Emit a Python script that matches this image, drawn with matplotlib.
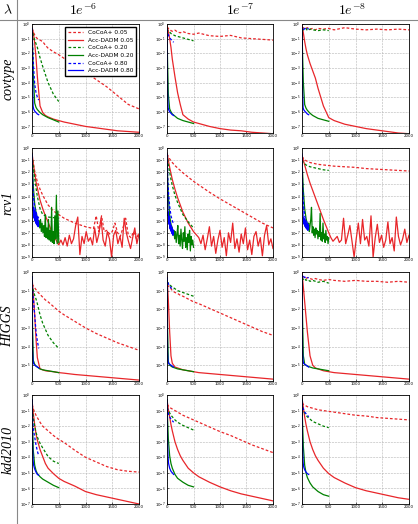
# convergence of CoCoA+ vs Acc-DADM on four datasets, three lambdas
import numpy as np
import matplotlib.pyplot as plt
from matplotlib.ticker import NullLocator, LogFormatterSciNotation

plt.rcParams['mathtext.fontset'] = 'cm'

lambdas = ['$1e^{-6}$', '$1e^{-7}$', '$1e^{-8}$']
datasets = ['covtype', 'rcv1', 'HIGGS', 'kdd2010']
labels = ['CoCoA+ 0.05', 'Acc-DADM 0.05', 'CoCoA+ 0.20',
          'Acc-DADM 0.20', 'CoCoA+ 0.80', 'Acc-DADM 0.80']
keys = ['c05', 'a05', 'c20', 'a20', 'c80', 'a80']

# iteration grids (x) for the smooth curves
X05 = [0, 25, 50, 75, 100, 150, 200, 250, 300, 400, 500, 600, 800, 1000, 1200, 1400, 1600, 1800, 2000]
X20 = [0, 10, 25, 50, 75, 100, 150, 200, 300, 400, 500]
X80 = [0, 5, 10, 20, 30, 50, 75, 100, 125]

# values are log10 of the plotted quantity
cov_6 = {
    'c05': [-0.3, -0.55, -0.75, -0.9, -1.0, -1.1, -1.2, -1.45, -1.65, -1.9, -2.1, -2.35, -2.8, -3.3, -3.8, -4.3, -4.9, -5.5, -5.8],
    'a05': [-0.2, -0.6, -1.3, -2.3, -3.6, -5.6, -6.05, -6.25, -6.35, -6.5, -6.6, -6.7, -6.85, -7.0, -7.1, -7.2, -7.3, -7.35, -7.4],
    'c20': [-0.3, -0.5, -0.8, -1.1, -1.35, -1.6, -2.3, -2.9, -4.0, -4.8, -5.3],
    'a20': [-0.3, -1.5, -3.5, -5.4, -5.7, -5.85, -6.05, -6.2, -6.4, -6.55, -6.7],
    'c80': [-0.3, -0.8, -1.3, -2.2, -3.0, -4.1, -4.7, -5.0, -5.2],
    'a80': [-0.3, -2.0, -4.0, -5.6, -5.8, -5.95, -6.05, -6.15, -6.2],
}
cov_7 = {
    'c05': [-0.2, -0.3, -0.35, -0.45, -0.5, -0.42, -0.55, -0.6, -0.52, -0.65, -0.7, -0.62, -0.8, -0.85, -0.78, -0.95, -1.0, -1.05, -1.1],
    'a05': [-0.1, -0.5, -1.0, -1.6, -2.4, -3.6, -4.7, -5.5, -6.2, -6.5, -6.7, -6.8, -7.0, -7.15, -7.25, -7.3, -7.4, -7.45, -7.5],
    'c20': [-0.3, -0.4, -0.5, -0.55, -0.65, -0.7, -0.8, -0.85, -0.95, -1.05, -1.15],
    'a20': [-0.3, -2.5, -4.8, -5.8, -6.0, -6.15, -6.3, -6.45, -6.6, -6.7, -6.8],
    'c80': [-0.35, -0.45, -0.55, -0.7, -0.8, -0.95, -1.05, -1.15, -1.25],
    'a80': [-0.35, -2.5, -4.5, -5.7, -5.85, -6.0, -6.1, -6.2, -6.25],
}
cov_8 = {
    'c05': [-0.3, -0.25, -0.35, -0.3, -0.25, -0.35, -0.3, -0.4, -0.3, -0.35, -0.3, -0.4, -0.25, -0.35, -0.4, -0.35, -0.4, -0.35, -0.4],
    'a05': [0.0, -0.6, -1.2, -1.7, -2.1, -2.7, -3.2, -3.7, -4.4, -5.6, -6.4, -6.6, -6.85, -7.0, -7.15, -7.25, -7.35, -7.45, -7.5],
    'c20': [-0.3, -0.3, -0.4, -0.35, -0.3, -0.45, -0.35, -0.4, -0.45, -0.4, -0.45],
    'a20': [-0.3, -2.0, -4.0, -5.5, -5.75, -5.9, -6.1, -6.25, -6.45, -6.55, -6.65],
    'c80': [-0.3, -0.25, -0.35, -0.3, -0.4, -0.3, -0.35, -0.3, -0.35],
    'a80': [-0.3, -2.5, -4.5, -5.7, -5.85, -5.95, -6.05, -6.15, -6.2],
}


def noisy(xs, ys, x1, x2, yn):
    # smooth head followed by an evenly sampled noisy tail
    return (list(xs) + list(np.linspace(x1, x2, len(yn))), list(ys) + list(yn))


XA = [0, 25, 50, 75, 100, 125, 150, 200, 250, 300, 350, 400, 450, 500]
XG = [0, 10, 25, 50, 75, 100]
rcv_6 = {
    'c05': ([0, 25, 50, 100, 150, 200, 300, 400, 500, 600, 700, 800, 900, 1000, 1100, 1150, 1200, 1250, 1300, 1350, 1400,
             1450, 1500, 1550, 1600, 1650, 1700, 1750, 1800, 1850, 1900, 1950, 2000],
            [-0.6, -1.3, -1.9, -2.8, -3.4, -3.9, -4.7, -5.2, -5.5, -5.8, -6.0, -6.2, -6.35, -6.5, -6.6, -6.65, -5.6, -6.9, -5.6,
             -6.9, -6.8, -7.1, -6.9, -6.2, -7.0, -7.3, -6.6, -5.8, -7.2, -7.4, -6.9, -7.5, -7.0]),
    'a05': noisy(XA, [-0.4, -1.3, -2.1, -2.8, -3.3, -3.8, -4.3, -5.0, -5.6, -6.1, -6.7, -7.2, -7.6, -8.0], 540, 2000,
                 [-7.6, -8.0, -7.4, -8.1, -7.2, -7.9, -7.5, -6.4, -5.7, -8.8, -7.3, -7.9, -6.9, -7.7, -7.4, -8.0, -6.6, -7.8, -7.1,
                  -5.8, -7.6, -8.1, -6.9, -7.5, -9.0, -7.2, -6.8, -7.9, -7.3, -8.2, -5.8, -7.0, -7.7, -8.3, -7.4, -6.6, -7.9, -7.1]),
    'c20': [-0.6, -1.0, -1.6, -2.5, -3.3, -4.0, -5.0, -5.5, -5.7, -5.75, -5.8],
    'a20': noisy(XG, [-0.5, -1.8, -3.2, -4.6, -5.3, -5.8], 115, 500,
                 [-6.3, -6.0, -6.6, -5.9, -6.9, -6.2, -7.0, -6.4, -7.3, -5.5, -7.4, -6.6, -7.5, -5.9, -7.6, -6.8, -7.7, -4.9,
                  -7.8, -6.9, -7.9, -5.6, -7.5, -3.9, -7.9, -5.2, -7.8]),
    'c80': [-0.6, -1.5, -2.3, -3.4, -4.1, -4.9, -5.3, -5.6, -5.8],
    'a80': noisy([0], [-0.5], 5, 125,
                 [-2.3, -3.8, -4.6, -5.2, -4.9, -5.6, -5.1, -5.8, -5.3, -5.4, -6.0, -5.2, -5.7, -6.2, -5.5, -5.9, -6.3, -5.6,
                  -6.1, -6.4, -5.8, -6.2, -6.5, -6.1, -6.4]),
}
rcv_7 = {
    'c05': [-0.5, -0.7, -0.9, -1.05, -1.2, -1.45, -1.65, -1.85, -2.05, -2.4, -2.75, -3.05, -3.65, -4.2, -4.7, -5.2, -5.7, -6.2, -6.6],
    'a05': noisy([0, 25, 50, 100, 150, 200, 300, 400, 500, 600], [-0.4, -1.0, -1.6, -2.6, -3.4, -4.1, -5.3, -6.2, -6.9, -7.4],
                 640, 2000,
                 [-7.9, -7.2, -8.4, -7.5, -6.5, -8.1, -7.3, -8.7, -7.6, -6.8, -8.2, -7.4, -8.9, -7.0, -7.8, -6.2, -8.3, -7.5,
                  -8.6, -7.1, -7.9, -6.6, -8.4, -7.6, -8.8, -7.3, -6.9, -8.1, -7.4, -8.9, -7.2, -6.4, -8.0, -7.5, -8.3]),
    'c20': [-0.5, -0.9, -1.4, -2.0, -2.6, -3.1, -3.9, -4.5, -5.5, -6.1, -6.6],
    'a20': noisy(XG, [-0.5, -2.2, -4.0, -5.6, -6.3, -6.6], 115, 500,
                 [-7.2, -6.8, -7.5, -6.9, -7.8, -7.1, -6.4, -7.9, -7.2, -8.1, -6.7, -7.6, -8.3, -7.0, -7.7, -6.5, -8.2, -7.4,
                  -8.4, -7.1, -7.8, -6.8, -8.5, -7.3, -8.0, -7.6, -8.2]),
    'c80': [-0.5, -1.2, -1.9, -3.0, -3.8, -4.8, -5.6, -6.0, -6.3],
    'a80': noisy([0], [-0.5], 5, 125,
                 [-2.5, -4.0, -5.0, -5.6, -5.3, -6.0, -5.6, -6.3, -5.9, -6.5, -6.1, -6.7, -6.2, -6.8, -6.4, -6.9, -6.5, -7.0,
                  -6.6, -7.1, -6.7, -7.2, -6.8, -7.1, -7.0]),
}
rcv_8 = {
    'c05': [-0.7, -0.85, -0.95, -1.05, -1.1, -1.2, -1.25, -1.3, -1.35, -1.4, -1.45, -1.5, -1.55, -1.6, -1.7, -1.75, -1.8, -1.85, -1.9],
    'a05': noisy([0, 25, 50, 100, 150, 200, 300, 400, 500], [-0.6, -1.0, -1.4, -2.2, -2.9, -3.5, -4.7, -5.9, -7.0], 540, 2000,
                 [-7.4, -7.7, -7.5, -7.3, -7.8, -7.6, -5.8, -7.9, -7.2, -6.4, -7.7, -9.0, -7.5, -6.2, -7.9, -5.9, -7.6, -7.3,
                  -8.1, -5.6, -9.0, -7.4, -6.3, -7.8, -7.2, -8.2, -7.6, -6.1, -7.9, -7.4, -8.5, -5.7, -7.3, -8.0, -7.5, -6.7,
                  -7.8, -7.2]),
    'c20': [-1.0, -1.1, -1.2, -1.3, -1.4, -1.45, -1.55, -1.6, -1.7, -1.8, -1.85],
    'a20': noisy(XG, [-0.8, -2.0, -3.5, -5.0, -5.8, -6.3], 110, 500,
                 [-6.6, -6.2, -6.9, -6.4, -5.9, -4.9, -7.0, -6.5, -7.2, -6.7, -7.4, -6.6, -7.1, -6.8, -7.5, -6.9, -7.3, -5.4,
                  -7.6, -7.0, -7.7, -6.2, -7.5, -7.1, -7.8, -6.8, -7.6, -7.3, -7.9, -7.4]),
    'c80': [-0.9, -1.8, -2.8, -4.0, -4.8, -5.6, -6.0, -6.2, -6.4],
    'a80': noisy([0], [-0.5], 5, 125,
                 [-2.5, -4.0, -5.0, -5.6, -5.9, -6.2, -5.8, -6.3, -6.0, -6.4, -5.9, -6.5, -6.1, -6.6, -6.2, -6.5, -6.3, -6.7,
                  -6.2, -6.6, -6.4, -6.8, -6.3, -6.7, -6.5]),
}
hig_6 = {
    'c05': [-0.65, -0.75, -0.85, -0.95, -1.05, -1.2, -1.35, -1.5, -1.6, -1.85, -2.1, -2.3, -2.65, -3.0, -3.3, -3.55, -3.8, -4.0, -4.2],
    'a05': [-0.25, -1.2, -2.3, -3.6, -4.6, -5.2, -5.25, -5.3, -5.32, -5.35, -5.4, -5.43, -5.5, -5.55, -5.6, -5.65, -5.7, -5.75, -5.8],
    'c20': [-0.65, -0.8, -1.0, -1.25, -1.45, -1.7, -2.3, -2.75, -3.4, -3.8, -4.1],
    'a20': [-0.25, -3.0, -4.75, -4.95, -5.05, -5.1, -5.2, -5.25, -5.3, -5.35, -5.4],
    'c80': [-0.25, -0.6, -0.9, -1.3, -1.6, -2.3, -3.2, -3.7, -4.1],
    'a80': [-0.25, -2.5, -4.2, -4.8, -4.9, -5.0, -5.05, -5.1, -5.15],
}
hig_7 = {
    'c05': [-0.7, -0.75, -0.85, -0.9, -1.0, -1.1, -1.15, -1.25, -1.3, -1.45, -1.6, -1.7, -1.95, -2.2, -2.45, -2.7, -2.95, -3.2, -3.4],
    'a05': [-0.2, -1.5, -3.2, -4.5, -4.9, -5.1, -5.15, -5.2, -5.25, -5.3, -5.35, -5.4, -5.45, -5.5, -5.55, -5.6, -5.65, -5.7, -5.75],
    'c20': [-0.5, -0.55, -0.6, -0.7, -0.75, -0.8, -0.9, -1.0, -1.1, -1.2, -1.3],
    'a20': [-0.3, -3.0, -4.8, -5.0, -5.05, -5.1, -5.15, -5.2, -5.25, -5.3, -5.35],
    'c80': [-0.3, -0.4, -0.5, -0.6, -0.65, -0.75, -0.85, -0.9, -0.95],
    'a80': [-0.3, -2.5, -4.3, -4.8, -4.9, -4.95, -5.0, -5.05, -5.1],
}
hig_8 = {
    'c05': [-0.3, -0.25, -0.3, -0.35, -0.3, -0.35, -0.4, -0.35, -0.4, -0.45, -0.4, -0.45, -0.5, -0.45, -0.5, -0.5, -0.55, -0.5, -0.55],
    'a05': [0.0, -0.8, -1.6, -2.4, -3.2, -4.5, -5.0, -5.15, -5.2, -5.3, -5.35, -5.4, -5.45, -5.5, -5.55, -5.6, -5.65, -5.7, -5.75],
    'c20': [-0.3, -0.35, -0.4, -0.35, -0.45, -0.4, -0.5, -0.45, -0.55, -0.5, -0.6],
    'a20': [-0.3, -2.5, -4.5, -4.95, -5.0, -5.05, -5.1, -5.15, -5.2, -5.25, -5.3],
    'c80': [-0.2, -0.25, -0.2, -0.3, -0.25, -0.3, -0.25, -0.3, -0.3],
    'a80': [-0.2, -2.5, -4.3, -4.8, -4.9, -4.95, -5.0, -5.05, -5.1],
}
kdd_6 = {
    'c05': [-0.6, -0.9, -1.1, -1.3, -1.45, -1.75, -2.0, -2.15, -2.3, -2.6, -2.85, -3.05, -3.55, -4.0, -4.3, -4.6, -4.8, -4.9, -4.95],
    'a05': [-0.3, -1.2, -1.9, -2.5, -2.9, -3.5, -3.95, -4.4, -4.7, -5.05, -5.35, -5.55, -5.85, -6.2, -6.4, -6.55, -6.7, -6.85, -7.0],
    'c20': [-0.6, -1.0, -1.5, -2.0, -2.4, -2.7, -3.1, -3.4, -3.95, -4.25, -4.4],
    'a20': [-0.3, -2.0, -3.6, -4.5, -4.85, -5.05, -5.25, -5.4, -5.6, -5.8, -5.95],
    'c80': [-0.3, -0.9, -1.4, -2.0, -2.3, -2.7, -3.2, -3.6, -3.9],
    'a80': [-0.3, -2.0, -3.2, -4.2, -4.5, -4.75, -4.95, -5.1, -5.15],
}
kdd_7 = {
    'c05': [-0.6, -0.7, -0.8, -0.85, -0.9, -1.0, -1.1, -1.2, -1.3, -1.45, -1.6, -1.75, -2.05, -2.35, -2.6, -2.9, -3.2, -3.45, -3.7],
    'a05': [-0.3, -0.9, -1.4, -1.9, -2.3, -3.0, -3.5, -3.9, -4.2, -4.7, -5.0, -5.25, -5.6, -5.9, -6.15, -6.35, -6.5, -6.65, -6.8],
    'c20': [-0.8, -0.9, -1.0, -1.15, -1.3, -1.4, -1.6, -1.75, -1.95, -2.1, -2.25],
    'a20': [-0.3, -1.5, -2.8, -3.9, -4.4, -4.7, -5.1, -5.35, -5.6, -5.8, -5.9],
    'c80': [-0.5, -0.7, -0.9, -1.1, -1.25, -1.4, -1.55, -1.65, -1.75],
    'a80': [-0.3, -1.8, -3.0, -4.0, -4.4, -4.7, -4.9, -5.0, -5.1],
}
kdd_8 = {
    'c05': [-0.5, -0.6, -0.65, -0.7, -0.75, -0.8, -0.85, -0.9, -0.95, -1.0, -1.05, -1.1, -1.2, -1.3, -1.35, -1.45, -1.5, -1.55, -1.6],
    'a05': [-0.2, -0.8, -1.4, -1.9, -2.3, -3.0, -3.5, -3.9, -4.2, -4.7, -5.05, -5.3, -5.65, -5.95, -6.15, -6.3, -6.45, -6.6, -6.7],
    'c20': [-0.8, -0.9, -1.0, -1.15, -1.3, -1.4, -1.55, -1.7, -1.85, -2.0, -2.1],
    'a20': [-0.3, -1.8, -3.3, -4.5, -5.0, -5.3, -5.65, -5.9, -6.2, -6.4, -6.5],
    'c80': [-0.5, -0.6, -0.7, -0.85, -0.95, -1.1, -1.2, -1.3, -1.4],
    'a80': [-0.3, -2.0, -3.3, -4.3, -4.6, -4.8, -4.95, -5.05, -5.1],
}

panels = [[cov_6, cov_7, cov_8], [rcv_6, rcv_7, rcv_8],
          [hig_6, hig_7, hig_8], [kdd_6, kdd_7, kdd_8]]
ylow = [-7.45, -9.0, -5.85, -7.0]  # log10 of lower y limit per row

grids = {'c05': X05, 'a05': X05, 'c20': X20, 'a20': X20, 'c80': X80, 'a80': X80}
colors = {'c05': '#e8262a', 'a05': '#e8262a', 'c20': '#008000', 'a20': '#008000',
          'c80': '#0000ff', 'a80': '#0000ff'}

W, H = 418, 524
fig = plt.figure(figsize=(W / 100, H / 100), dpi=100)

col_x = [(32, 139), (167, 273), (302, 409)]
row_y = [(24, 133), (148, 257), (272, 381), (395, 504)]

for r in range(4):
    for c in range(3):
        x0, x1 = col_x[c]
        y0, y1 = row_y[r]
        ax = fig.add_axes([x0 / W, 1 - y1 / H, (x1 - x0) / W, (y1 - y0) / H])
        data = panels[r][c]
        for k, lab in zip(keys, labels):
            s = data[k]
            if isinstance(s, tuple):
                xs, ys = s
            else:
                xs, ys = grids[k], s
            ls = '-' if k.startswith('a') else '--'
            line, = ax.plot(xs, 10.0 ** np.asarray(ys), color=colors[k], ls=ls, lw=0.9, label=lab)
            if ls == '--':
                line.set_dashes((2.2, 1.6))
        ax.set_yscale('log')
        ax.set_xlim(0, 2000)
        ax.set_ylim(10 ** ylow[r], 1.0)
        ax.set_xticks([0, 500, 1000, 1500, 2000])
        # only decades inside the view, so no hidden labels sit outside the box
        ax.set_yticks([10.0 ** -e for e in range(0, int(np.floor(-ylow[r] + 1e-9)) + 1)])
        ax.yaxis.set_major_formatter(LogFormatterSciNotation())
        ax.yaxis.set_minor_locator(NullLocator())
        ax.tick_params(labelsize=2.8, length=1.5, width=0.4, direction='in', pad=0.8)
        ax.grid(True, color='#b5b5b5', ls='--', lw=0.4)
        for sp in ax.spines.values():
            sp.set_linewidth(0.6)
        if r == 0 and c == 0:
            ax.legend(loc='upper right', fontsize=4.2, frameon=True, fancybox=False,
                      edgecolor='black', handlelength=2.6, labelspacing=0.45,
                      borderpad=0.5, handletextpad=0.8, framealpha=1)

# header row and row labels
fig.text(8 / W, 1 - 10 / H, r'$\lambda$', fontsize=10, ha='center', va='center')
for c, lam in enumerate(lambdas):
    xc = [83, 240, 352][c]
    fig.text(xc / W, 1 - 10 / H, lam, fontsize=10, ha='center', va='center')
for r, name in enumerate(datasets):
    yc = (row_y[r][0] + row_y[r][1]) / 2
    fig.text(8 / W, 1 - yc / H, name, fontsize=10, rotation=90, ha='center', va='center',
             family='Liberation Serif', style='italic')

fig.add_artist(plt.Line2D([0, 1], [1 - 20 / H, 1 - 20 / H], color='#888888', lw=0.8,
                          transform=fig.transFigure))
fig.add_artist(plt.Line2D([17 / W, 17 / W], [0, 1], color='#888888', lw=0.8,
                          transform=fig.transFigure))

fig.savefig('out.png', dpi=100)
